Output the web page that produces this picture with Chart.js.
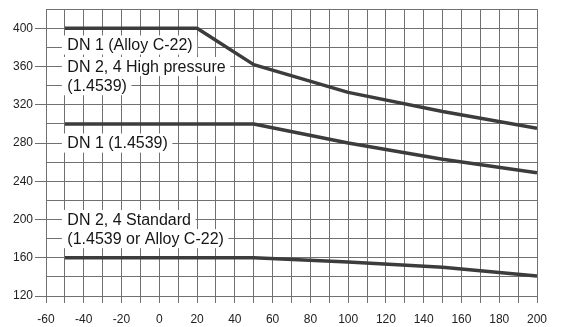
<!DOCTYPE html>
<html>
<head>
<meta charset="utf-8">
<script src="https://cdn.jsdelivr.net/npm/chart.js@4/dist/chart.umd.min.js"></script>
<style>
  html, body { margin: 0; padding: 0; background: #fff; }
  #wrap { width: 562px; height: 327px; position: relative; }
</style>
</head>
<body>
<div id="wrap"><canvas id="c" width="562" height="327"></canvas></div>
<script>
// Temperature (x) and pressure (y) values
const highPressureX = [-50, 20, 50, 100, 150, 200];
const highPressureY = [400, 400, 362, 333, 313, 295.5];
const dn1X = [-50, 50, 100, 150, 200];
const dn1Y = [300, 300, 280, 263, 249];
const standardX = [-50, 50, 100, 150, 200];
const standardY = [160, 160, 155.5, 150, 141];

const xTickLabels = [-60, -40, -20, 0, 20, 40, 60, 80, 100, 120, 140, 160, 180, 200];
const yTickLabels = [120, 160, 200, 240, 280, 320, 360, 400];

// Curve labels (text lines and their anchor in data units)
const curveLabels = [
  { text: 'DN 1 (Alloy C-22)', x: -48.7, y: 382.5 },
  { text: 'DN 2, 4 High pressure', x: -48.7, y: 360 },
  { text: '(1.4539)', x: -48.7, y: 340 },
  { text: 'DN 1 (1.4539)', x: -48.7, y: 280 },
  { text: 'DN 2, 4 Standard', x: -48.7, y: 200 },
  { text: '(1.4539 or Alloy C-22)', x: -48.7, y: 180 }
];

const toPts = (xs, ys) => xs.map((x, i) => ({ x: x, y: ys[i] }));

const gridColor = '#707070';
const lineColor = '#3c3c3c';
const FONT = '"Liberation Sans", Arial, Helvetica, sans-serif';

const labelPlugin = {
  id: 'curveLabels',
  beforeDatasetsDraw(chart) {
    const ctx = chart.ctx;
    const xs = chart.scales.x, ys = chart.scales.y;
    ctx.save();
    ctx.font = '16px ' + FONT;
    ctx.textBaseline = 'middle';
    ctx.textAlign = 'left';
    curveLabels.forEach(l => {
      const px = xs.getPixelForValue(l.x);
      const top = ys.getPixelForValue(l.y + 10);
      const bot = ys.getPixelForValue(l.y - 10);
      const w = ctx.measureText(l.text).width;
      ctx.fillStyle = '#ffffff';
      ctx.fillRect(px - 5.5, top, w + 10, bot - top);
    });
    curveLabels.forEach(l => {
      const px = xs.getPixelForValue(l.x);
      const py = ys.getPixelForValue(l.y);
      ctx.fillStyle = '#151515';
      ctx.fillText(l.text, px, py + 1);
    });
    ctx.restore();
  }
};

const ds = (pts) => ({
  data: pts,
  borderColor: lineColor,
  borderWidth: 3.5,
  pointRadius: 0,
  fill: false,
  tension: 0,
  borderCapStyle: 'butt',
  borderJoinStyle: 'round'
});

new Chart(document.getElementById('c'), {
  type: 'line',
  data: {
    datasets: [
      ds(toPts(highPressureX, highPressureY)),
      ds(toPts(dn1X, dn1Y)),
      ds(toPts(standardX, standardY))
    ]
  },
  options: {
    responsive: false,
    animation: false,
    devicePixelRatio: 1,
    layout: { padding: { top: 8, right: 25, left: 0, bottom: 0 } },
    plugins: { legend: { display: false }, tooltip: { enabled: false } },
    scales: {
      x: {
        type: 'linear',
        min: -60, max: 200,
        afterFit: s => { s.height = 31; },
        ticks: {
          stepSize: 10,
          autoSkip: false,
          maxTicksLimit: 100,
          maxRotation: 0,
          padding: 9,
          color: '#222',
          font: { family: FONT, size: 12 },
          callback: v => xTickLabels.includes(v) ? String(v) : ''
        },
        grid: { color: gridColor, lineWidth: 1, tickLength: 7, tickColor: gridColor },
        border: { display: true, color: gridColor, width: 1 }
      },
      y: {
        min: 120, max: 420,
        afterFit: s => { s.width = 46; },
        ticks: {
          stepSize: 20,
          autoSkip: false,
          maxTicksLimit: 100,
          padding: 2,
          color: '#222',
          font: { family: FONT, size: 12 },
          callback: v => yTickLabels.includes(v) ? String(v) : ''
        },
        grid: {
          color: gridColor, lineWidth: 1, tickLength: 11,
          tickColor: c => yTickLabels.includes(c.tick && c.tick.value) ? gridColor : 'rgba(0,0,0,0)'
        },
        border: { display: true, color: gridColor, width: 1 }
      }
    }
  },
  plugins: [labelPlugin]
});
</script>
</body>
</html>
